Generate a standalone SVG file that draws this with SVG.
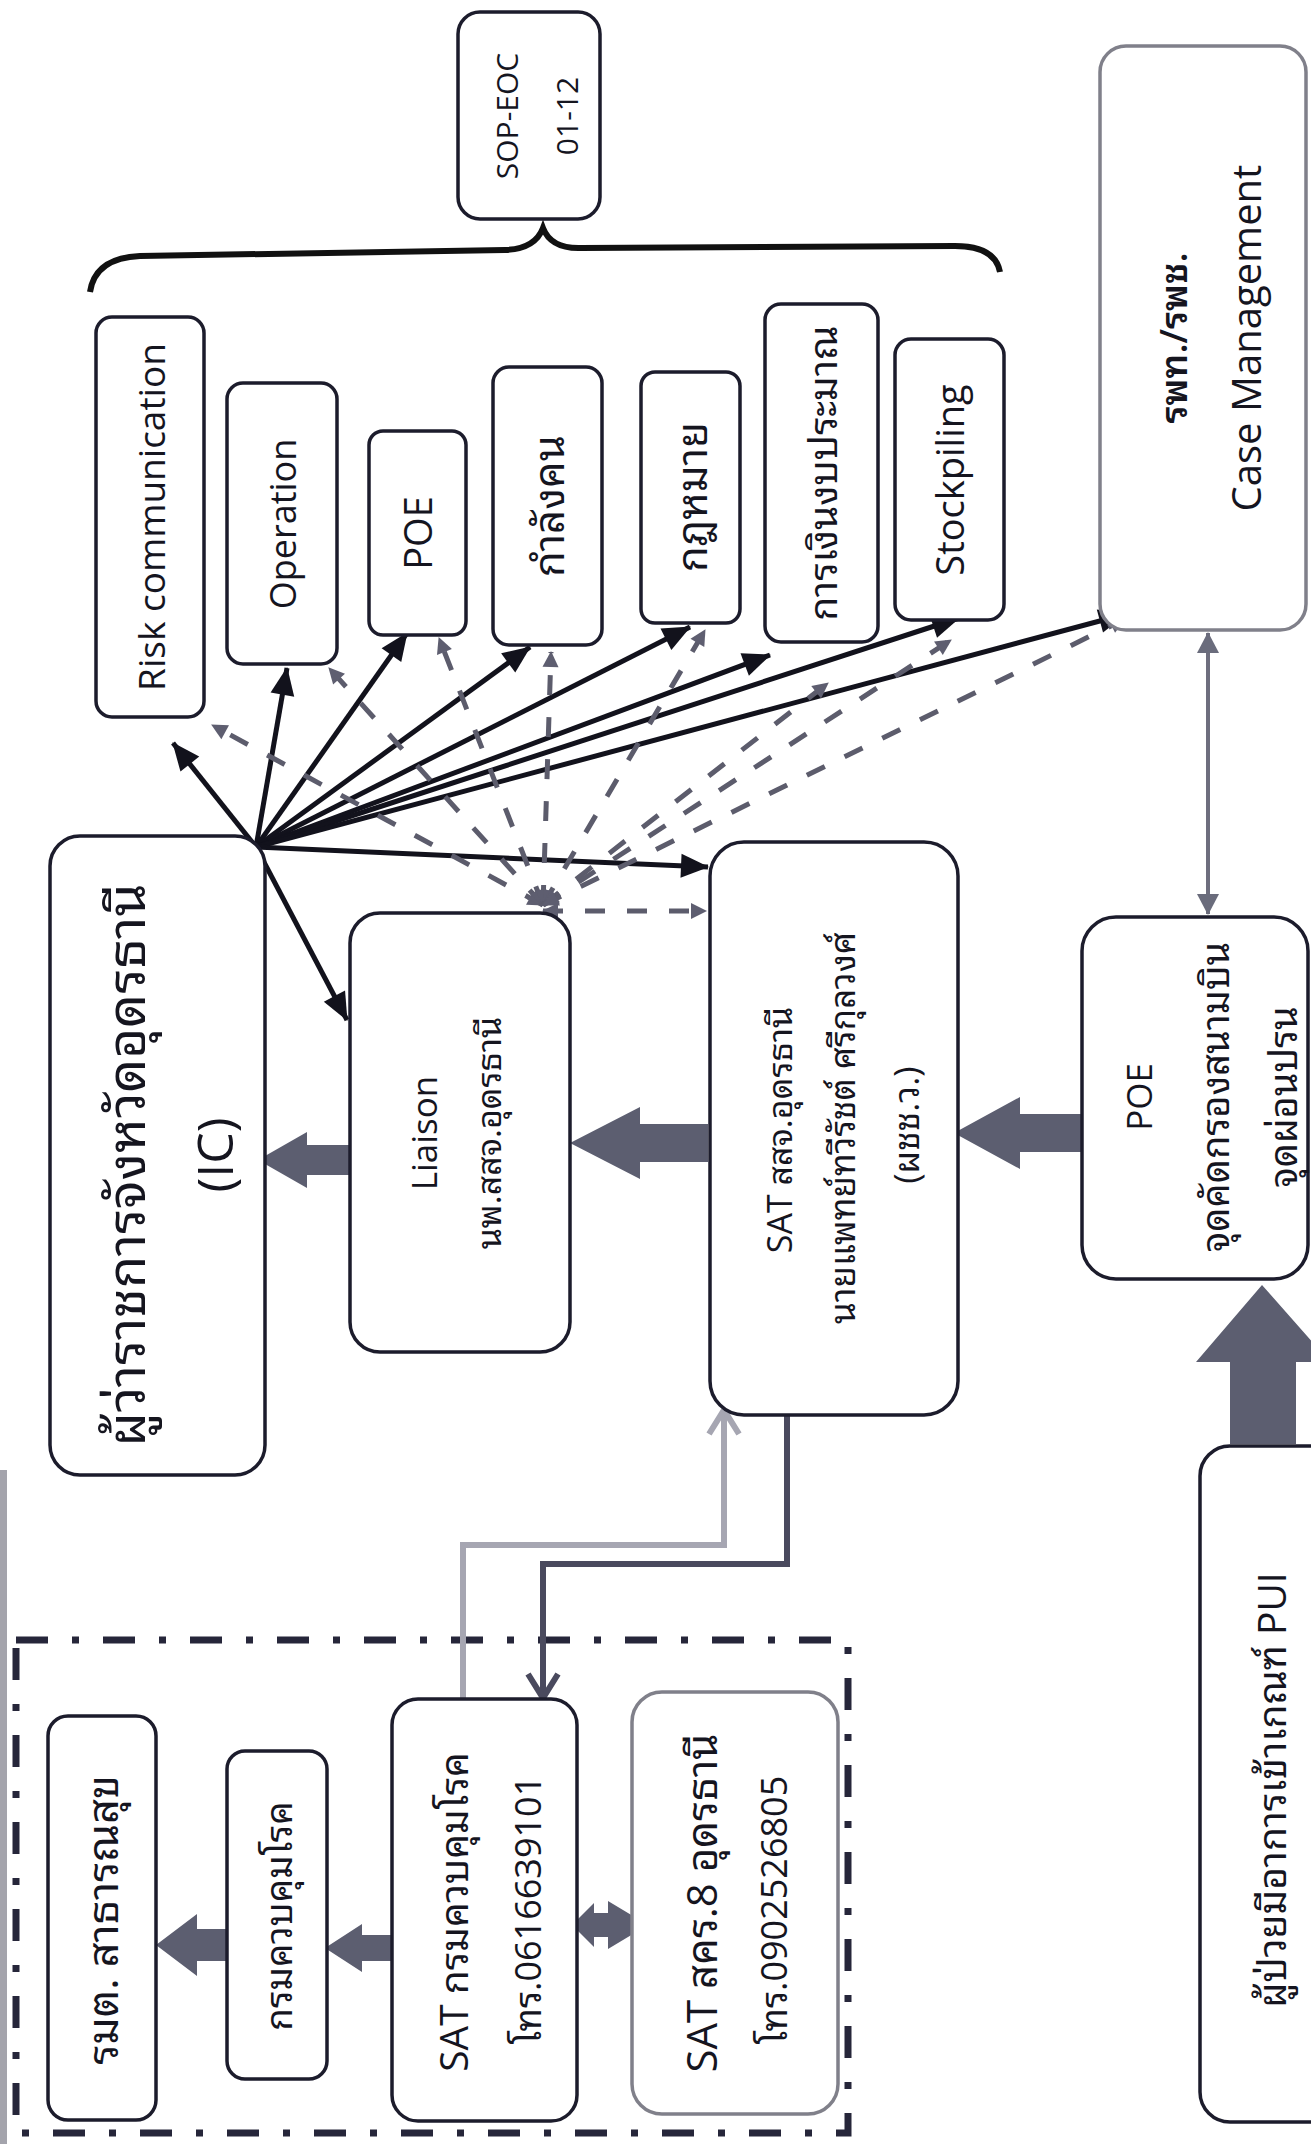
<svg xmlns="http://www.w3.org/2000/svg" width="1311" height="2144" viewBox="0 0 1311 2144">
<style>
.box{fill:#fff;stroke:#1c1c2c;stroke-width:3.5}
.gbox{fill:#fff;stroke:#80808a;stroke-width:3.5}
.t{font-family:"Open Sans","Noto Sans Thai Looped","Noto Sans Thai","Noto Sans",sans-serif;fill:#15151f;text-anchor:middle;dominant-baseline:central}
.fat{fill:#5c5e70}
.blk{stroke:#12121c;stroke-width:5;fill:none;marker-end:url(#ba)}
.dsh{stroke:#5c5c6c;stroke-width:5;fill:none;stroke-dasharray:20 22;marker-end:url(#ga);marker-start:url(#ga)}
</style>
<defs>
<marker id="ba" markerUnits="userSpaceOnUse" markerWidth="30" markerHeight="26" refX="27" refY="12" orient="auto" overflow="visible"><path d="M0,0 L28,12 L0,24 z" fill="#12121c"/></marker>
<marker id="ga" markerUnits="userSpaceOnUse" markerWidth="18" markerHeight="18" refX="15" refY="8" orient="auto-start-reverse" overflow="visible"><path d="M0,0 L16,8 L0,16 z" fill="#5e5e70"/></marker>
<marker id="gt" markerUnits="userSpaceOnUse" markerWidth="24" markerHeight="24" refX="20" refY="11" orient="auto-start-reverse" overflow="visible"><path d="M0,0 L21,11 L0,22 z" fill="#6a6c7c"/></marker>
<marker id="vl" markerUnits="userSpaceOnUse" markerWidth="34" markerHeight="36" refX="26" refY="17" orient="auto" overflow="visible"><path d="M2,2 L26,17 L2,32" fill="none" stroke="#a6a6b2" stroke-width="6"/></marker>
<marker id="vd" markerUnits="userSpaceOnUse" markerWidth="34" markerHeight="36" refX="26" refY="17" orient="auto" overflow="visible"><path d="M2,2 L26,17 L2,32" fill="none" stroke="#4a4a5e" stroke-width="6"/></marker>
</defs>
<rect width="1311" height="2144" fill="#fff"/>
<rect x="0" y="1470" width="7" height="674" fill="#a4a4ac"/>

<g id="brace"><path d="M90,292 Q95,258 140,256 L505,250 Q535,249 543,228 Q551,249 581,248 L955,246 Q995,246 1000,272" fill="none" stroke="#111" stroke-width="6"/></g>

<g id="container"><rect x="16" y="1640" width="832" height="493" fill="none" stroke="#26263a" stroke-width="7" stroke-dasharray="32 24 7 24"/></g>

<g id="connectors">
<line class="blk" x1="256" y1="847" x2="173" y2="743"/>
<line class="blk" x1="256" y1="847" x2="287" y2="668"/>
<line class="blk" x1="256" y1="847" x2="407" y2="633"/>
<line class="blk" x1="256" y1="847" x2="530" y2="647"/>
<line class="blk" x1="256" y1="847" x2="690" y2="627"/>
<line class="blk" x1="256" y1="847" x2="770" y2="655"/>
<line class="blk" x1="256" y1="847" x2="959" y2="618"/>
<line class="blk" x1="256" y1="847" x2="1126" y2="614"/>
<line class="blk" x1="256" y1="847" x2="708" y2="867"/>
<line class="blk" x1="256" y1="847" x2="347" y2="1020"/>
<line class="dsh" x1="543" y1="905" x2="212" y2="725"/>
<line class="dsh" x1="543" y1="905" x2="329" y2="668"/>
<line class="dsh" x1="543" y1="905" x2="439" y2="638"/>
<line class="dsh" x1="543" y1="905" x2="551" y2="652"/>
<line class="dsh" x1="543" y1="905" x2="705" y2="630"/>
<line class="dsh" x1="543" y1="905" x2="828" y2="683"/>
<line class="dsh" x1="543" y1="905" x2="951" y2="640"/>
<line class="dsh" x1="543" y1="905" x2="1125" y2="619"/>
<line class="dsh" x1="543" y1="911" x2="706" y2="911"/>
<line x1="1208" y1="633" x2="1208" y2="914" stroke="#6e6e7e" stroke-width="4" marker-start="url(#gt)" marker-end="url(#gt)"/>
<polyline points="463,1700 463,1545 724,1545 724,1410" fill="none" stroke="#a6a6b2" stroke-width="6" marker-end="url(#vl)"/>
<polyline points="787,1416 787,1564 543,1564 543,1698" fill="none" stroke="#4a4a5e" stroke-width="6" marker-end="url(#vd)"/>
<polygon class="fat" points="258,1160 307,1132 307,1145 350,1145 350,1175 307,1175 307,1188"/>
<polygon class="fat" points="570,1143 640,1107 640,1124 708,1124 708,1162 640,1162 640,1179"/>
<polygon class="fat" points="954,1133 1020,1097 1020,1114 1082,1114 1082,1152 1020,1152 1020,1169"/>
<polygon class="fat" points="1262,1285 1330,1362 1296,1362 1296,1444 1230,1444 1230,1362 1196,1362"/>
<polygon class="fat" points="156,1945 197,1914 197,1929 230,1929 230,1961 197,1961 197,1976"/>
<polygon class="fat" points="325,1948 362,1924 362,1935 394,1935 394,1961 362,1961 362,1972"/>
<polygon class="fat" points="572,1925 594,1903 594,1913 608,1913 608,1901 648,1925 608,1949 608,1937 594,1937 594,1947"/>
</g>

<g id="sop"><rect class="box" x="458" y="12" width="142" height="207" rx="22"/>
<text class="t" font-size="30" transform="translate(506,116) rotate(-90)">SOP-EOC</text>
<text class="t" font-size="30" transform="translate(566,116) rotate(-90)">01-12</text></g>

<g id="risk"><rect class="box" x="96" y="317" width="108" height="400" rx="16"/>
<text class="t" font-size="37" transform="translate(150,517) rotate(-90)">Risk communication</text></g>

<g id="operation"><rect class="box" x="227" y="383" width="110" height="281" rx="16"/>
<text class="t" font-size="36" transform="translate(282,524) rotate(-90)">Operation</text></g>

<g id="poe-small"><rect class="box" x="369" y="431" width="97" height="204" rx="14"/>
<text class="t" font-size="38" transform="translate(417,533) rotate(-90)">POE</text></g>

<g id="manpower"><rect class="box" x="493" y="367" width="109" height="278" rx="16"/>
<text class="t" font-size="42" transform="translate(547,506) rotate(-90)">กำลังคน</text></g>

<g id="law"><rect class="box" x="641" y="372" width="99" height="251" rx="14"/>
<text class="t" font-size="42" transform="translate(690,497) rotate(-90)">กฎหมาย</text></g>

<g id="finance"><rect class="box" x="765" y="304" width="113" height="338" rx="16"/>
<text class="t" font-size="39" transform="translate(821,473) rotate(-90)">การเงินงบประมาณ</text></g>

<g id="stockpiling"><rect class="box" x="895" y="339" width="109" height="281" rx="16"/>
<text class="t" font-size="38" transform="translate(949,480) rotate(-90)">Stockpiling</text></g>

<g id="case"><rect class="gbox" x="1100" y="46" width="206" height="584" rx="26"/>
<text class="t" font-size="37" font-weight="600" transform="translate(1172,338) rotate(-90)">รพท./รพช.</text>
<text class="t" font-size="40" transform="translate(1245,338) rotate(-90)">Case Management</text></g>

<g id="ic"><rect class="box" x="50" y="836" width="215" height="639" rx="30"/>
<text class="t" font-size="53" transform="translate(124,1165) rotate(-90)">ผู้ว่าราชการจังหวัดอุดรธานี</text>
<text class="t" font-size="50" transform="translate(214,1155) rotate(-90)">(IC)</text></g>

<g id="liaison"><rect class="box" x="350" y="913" width="220" height="439" rx="30"/>
<text class="t" font-size="35" transform="translate(423,1133) rotate(-90)">Liaison</text>
<text class="t" font-size="34" transform="translate(488,1133) rotate(-90)">นพ.สสจ.อุดรธานี</text></g>

<g id="sat-ssj"><rect class="box" x="710" y="842" width="248" height="573" rx="34"/>
<text class="t" font-size="34" transform="translate(779,1130) rotate(-90)">SAT สสจ.อุดรธานี</text>
<text class="t" font-size="35" transform="translate(841,1128) rotate(-90)">นายแพทย์ทวีรัชต์ ศรีกุลวงศ์</text>
<text class="t" font-size="35" transform="translate(905,1125) rotate(-90)">(ผชช.ว.)</text></g>

<g id="poe-airport"><rect class="box" x="1082" y="917" width="226" height="362" rx="34"/>
<text class="t" font-size="35" transform="translate(1138,1097) rotate(-90)">POE</text>
<text class="t" font-size="38" transform="translate(1214,1097) rotate(-90)">จุดคัดกรองสนามบิน</text>
<text class="t" font-size="38" transform="translate(1282,1097) rotate(-90)">จุดผ่อนปรน</text></g>

<g id="pui"><rect class="box" x="1200" y="1446" width="140" height="676" rx="30"/>
<text class="t" font-size="39" transform="translate(1270,1790) rotate(-90)">ผู้ป่วยมีอาการเข้าเกณฑ์ PUI</text></g>

<g id="minister"><rect class="box" x="48" y="1716" width="108" height="404" rx="20"/>
<text class="t" font-size="43" transform="translate(101,1920) rotate(-90)">รมต. สาธารณสุข</text></g>

<g id="ddc"><rect class="box" x="227" y="1751" width="100" height="328" rx="18"/>
<text class="t" font-size="37" transform="translate(277,1916) rotate(-90)">กรมควบคุมโรค</text></g>

<g id="sat-ddc"><rect class="box" x="392" y="1699" width="185" height="422" rx="26"/>
<text class="t" font-size="39" transform="translate(452,1912) rotate(-90)">SAT กรมควบคุมโรค</text>
<text class="t" font-size="36" transform="translate(527,1910) rotate(-90)">โทร.0616639101</text></g>

<g id="sat-odpc8"><rect class="gbox" x="632" y="1692" width="206" height="422" rx="30"/>
<text class="t" font-size="42" transform="translate(700,1903) rotate(-90)">SAT สคร.8 อุดรธานี</text>
<text class="t" font-size="36" transform="translate(773,1910) rotate(-90)">โทร.0902526805</text></g>
</svg>
